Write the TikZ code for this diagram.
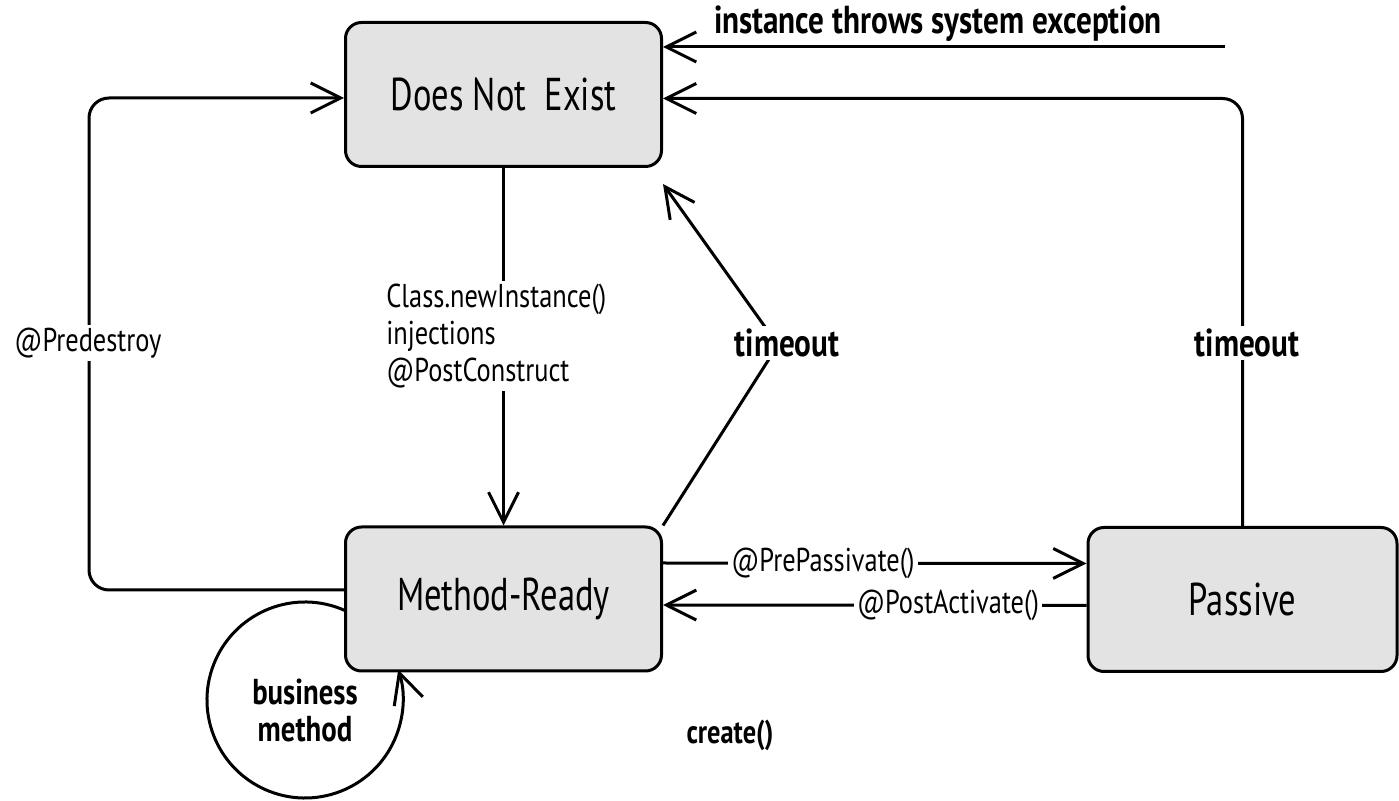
\documentclass[tikz,border=0pt]{standalone}
\usepackage{fontspec}
\setmainfont{PT Sans}[FakeStretch=0.8]
\newfontfamily\boxfont{PT Sans}[FakeStretch=0.75]
\usetikzlibrary{arrows.meta,calc}
\begin{document}
\begin{tikzpicture}[x=0.5pt,y=-0.5pt,
  state/.style={draw, line width=1.5pt, rounded corners=8pt, fill=black!11,
    minimum width=158pt, minimum height=72pt, inner sep=0pt,
    font=\boxfont\fontsize{23}{27}\selectfont},
  conn/.style={line width=1.5pt},
  arr/.style={conn, -{Straight Barb[length=15pt,width=15pt]}},
  lbl/.style={fill=white, inner sep=1.5pt, font=\fontsize{16.5}{18.5}\selectfont},
  blbl/.style={fill=white, inner sep=1.5pt, font=\bfseries\fontsize{19.5}{20}\selectfont}
]
\useasboundingbox (0,0) rectangle (1399,801);
% states
\node[state] (DNE) at (503.5,94.5) {Does Not\ \ Exist};
\node[state] (MR) at (503.5,599) {Method-Ready};
\node[state, minimum width=154.5pt] (PA) at (1242.5,599.5) {Passive};
% helper coordinates
\coordinate (lc) at (89,0);
\coordinate (mrw) at ([yshift=4.5pt]MR.west);
\coordinate (dnew) at ([yshift=-1.75pt]DNE.west);
\coordinate (excs) at (1225,47);
\coordinate (tv) at (778,345);
\coordinate (bmc) at (305,700);
% connectors
\draw[arr] (DNE.south) -- (MR.north);
\draw[arr, rounded corners=10pt] (mrw) -- (mrw -| lc) -- (dnew -| lc) -- (dnew);
\draw[arr] (excs) -- (excs -| DNE.east);
\draw[arr, rounded corners=10pt] (PA.north) |- ([yshift=-2pt]DNE.east);
\draw[arr] (MR.north east) -- (tv) -- ($(DNE.south east)+(0,16)$);
\draw[arr] ([yshift=18pt]MR.east) -- ([yshift=18pt]PA.west);
\draw[arr] ([yshift=-3pt]PA.west) -- ([yshift=-3pt]MR.east);
\draw[arr] ($(bmc)+(66:49pt)$) arc[start angle=66, end angle=378, radius=49pt];
% labels
\node[lbl, anchor=west, align=left] (lnew) at (383,336) {Class.newInstance()\\injections\\@PostConstruct};
\node[lbl] (lpre) at (88,343) {@Predestroy};
\node[blbl] (lto1) at (787,343) {timeout};
\node[blbl] (lto2) at (1247,343) {timeout};
\node[blbl, fill=none] (lexc) at (938,24) {instance throws system exception};
\node[lbl] (lpp) at (823,563) {@PrePassivate()};
\node[lbl] (lpa) at (948,605) {@PostActivate()};
\node[blbl, fill=none, align=center, inner sep=0pt, font=\bfseries\fontsize{18}{18.5}\selectfont] (lbm) at (305,710) {business\\method};
\node[blbl, fill=none, font=\bfseries\fontsize{16.5}{17}\selectfont] (lcr) at (730,735) {create()};
\end{tikzpicture}
\end{document}
